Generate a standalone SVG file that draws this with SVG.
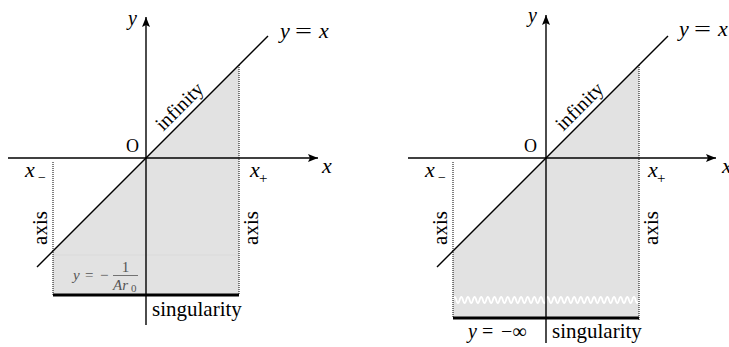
<svg xmlns="http://www.w3.org/2000/svg" width="729" height="347" viewBox="0 0 729 347">
<style>
.shade{fill:#e2e2e2;stroke:none}
.ax{stroke:#000;stroke-width:1.4;fill:none}
.diag{stroke:#000;stroke-width:1.4;fill:none}
.dot{stroke:#000;stroke-width:1;stroke-dasharray:1 1;fill:none}
.thick{stroke:#000;stroke-width:3.2;fill:none}
.faint{stroke:#d6d6d6;stroke-width:0.6}
.wave{stroke:#fff;stroke-width:1.8;fill:none}
text{font-family:"Liberation Serif","DejaVu Serif",serif;fill:#000}
.it{font-style:italic}
.gray{fill:#555}
</style>
<defs>
<marker id="arr" viewBox="0 0 10 8" refX="10" refY="4" markerWidth="10" markerHeight="8" markerUnits="userSpaceOnUse" orient="auto">
<path d="M0,0 L10,4 L0,8 L2,4 Z" fill="#000"/>
</marker>
</defs>

<g id="left-region">
<polygon class="shade" points="53,251 239,65 239,295 53,295"/>
<line class="faint" x1="53" y1="255" x2="239" y2="255"/>
</g>
<g id="left-connectors">
<line class="ax" x1="8" y1="158" x2="318" y2="158" marker-end="url(#arr)"/>
<line class="ax" x1="146" y1="325" x2="146" y2="17" marker-end="url(#arr)"/>
<line class="diag" x1="37" y1="267" x2="268" y2="36"/>
<line class="dot" x1="53" y1="162" x2="53" y2="295"/>
<line class="dot" x1="239" y1="65" x2="239" y2="295"/>
<line class="thick" x1="53" y1="295" x2="239" y2="295"/>
</g>
<g id="left-labels">
<text class="it" x="128" y="25" font-size="20">y</text>
<text class="it" x="322" y="173" font-size="22">x</text>
<text x="126" y="152" font-size="18">O</text>
<g id="left-yeqx"><text class="it" x="280" y="38" font-size="22">y</text><text x="295" y="38" font-size="22" textLength="17" lengthAdjust="spacingAndGlyphs">=</text><text class="it" x="319" y="38" font-size="22">x</text></g>
<g id="left-xminus"><text class="it" x="25" y="177" font-size="22">x</text><text x="38" y="182" font-size="14">−</text></g>
<g id="left-xplus"><text class="it" x="250" y="177" font-size="22">x</text><text x="259" y="183" font-size="15">+</text></g>
<text font-size="20" text-anchor="middle" transform="translate(184,111) rotate(-45)">infinity</text>
<text font-size="21" text-anchor="middle" transform="translate(47,228) rotate(-90)">axis</text>
<text font-size="21" text-anchor="middle" transform="translate(258,228) rotate(-90)">axis</text>
<text x="152" y="316" font-size="21">singularity</text>
<g id="left-frac">
<text class="it gray" x="73" y="280" font-size="15">y</text>
<text class="gray" x="85" y="280" font-size="15">=</text>
<text class="gray" x="100" y="280" font-size="15">−</text>
<text class="gray" x="125.5" y="272" font-size="15" text-anchor="middle">1</text>
<line x1="113" y1="275.5" x2="138" y2="275.5" stroke="#555" stroke-width="0.8"/>
<text class="it gray" x="113" y="290" font-size="15">Ar</text>
<text class="gray" x="131" y="292" font-size="11">0</text>
</g>
</g>

<g id="right-region">
<polygon class="shade" points="453,251 639,65 639,318 453,318"/>
<path class="wave" d="M453,300 q1.66,-6 3.32,0 t3.32,0 t3.32,0 t3.32,0 t3.32,0 t3.32,0 t3.32,0 t3.32,0 t3.32,0 t3.32,0 t3.32,0 t3.32,0 t3.32,0 t3.32,0 t3.32,0 t3.32,0 t3.32,0 t3.32,0 t3.32,0 t3.32,0 t3.32,0 t3.32,0 t3.32,0 t3.32,0 t3.32,0 t3.32,0 t3.32,0 t3.32,0 t3.32,0 t3.32,0 t3.32,0 t3.32,0 t3.32,0 t3.32,0 t3.32,0 t3.32,0 t3.32,0 t3.32,0 t3.32,0 t3.32,0 t3.32,0 t3.32,0 t3.32,0 t3.32,0 t3.32,0 t3.32,0 t3.32,0 t3.32,0 t3.32,0 t3.32,0 t3.32,0 t3.32,0 t3.32,0 t3.32,0 t3.32,0 t3.32,0"/>
</g>
<g id="right-connectors">
<line class="ax" x1="408" y1="158" x2="716" y2="158" marker-end="url(#arr)"/>
<line class="ax" x1="546" y1="343" x2="546" y2="15" marker-end="url(#arr)"/>
<line class="diag" x1="437" y1="267" x2="668" y2="36"/>
<line class="dot" x1="453" y1="162" x2="453" y2="318"/>
<line class="dot" x1="639" y1="65" x2="639" y2="320"/>
<line class="thick" x1="453" y1="318" x2="639" y2="318"/>
</g>
<g id="right-labels">
<text class="it" x="528" y="22" font-size="20">y</text>
<text class="it" x="722" y="173" font-size="22">x</text>
<text x="524" y="152" font-size="18">O</text>
<g id="right-yeqx"><text class="it" x="679" y="36" font-size="22">y</text><text x="694" y="36" font-size="22" textLength="17" lengthAdjust="spacingAndGlyphs">=</text><text class="it" x="718" y="36" font-size="22">x</text></g>
<g id="right-xminus"><text class="it" x="425" y="177" font-size="22">x</text><text x="438" y="182" font-size="14">−</text></g>
<g id="right-xplus"><text class="it" x="648" y="177" font-size="22">x</text><text x="657" y="183" font-size="15">+</text></g>
<text font-size="20" text-anchor="middle" transform="translate(584,111) rotate(-45)">infinity</text>
<text font-size="21" text-anchor="middle" transform="translate(447,228) rotate(-90)">axis</text>
<text font-size="21" text-anchor="middle" transform="translate(658,228) rotate(-90)">axis</text>
<text x="552" y="338" font-size="21">singularity</text>
<g id="right-yinf"><text class="it" x="468" y="338" font-size="20">y</text><text x="482" y="338" font-size="20">=</text><text x="501" y="338" font-size="20">−∞</text></g>
</g>
</svg>
